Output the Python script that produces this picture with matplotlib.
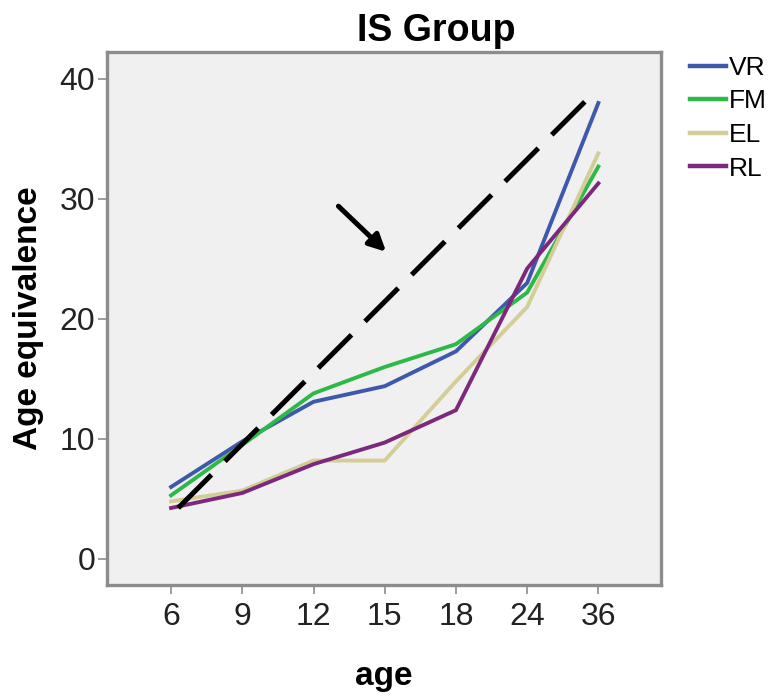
import matplotlib
matplotlib.use('Agg')
from matplotlib import pyplot as plt

plt.rcParams['font.family'] = ['Liberation Sans', 'DejaVu Sans']

# ages on the x axis (categorical, equally spaced)
ages = ['6', '9', '12', '15', '18', '24', '36']

# age equivalence per domain
vr = [6.0, 9.8, 13.1, 14.4, 17.3, 23.0, 38.0]
fm = [5.3, 9.5, 13.8, 16.0, 17.9, 22.2, 32.7]
el = [4.8, 5.7, 8.2, 8.2, 14.8, 21.0, 33.8]
rl = [4.25, 5.5, 7.9, 9.7, 12.4, 24.2, 31.3]

series = {'VR': vr, 'FM': fm, 'EL': el, 'RL': rl}
colors = {'VR': '#3e58ac', 'FM': '#2eb848', 'EL': '#d3ce97', 'RL': '#7c287d'}

# hand drawn reference line and arrow (x in category index units)
diag_x = [0.1, 5.81]
diag_y = [4.25, 38.1]
arrow_from = (2.35, 29.4)
arrow_to = (3.02, 25.6)

fig = plt.figure(figsize=(7.7, 6.97), dpi=100)
ax = fig.add_axes([107/770, 1 - 585/697, (661-107)/770, (585-52)/697])
ax.set_facecolor('#f0f0f0')

x = list(range(len(ages)))
for name, vals in series.items():
    ax.plot(x, vals, color=colors[name], lw=2.8, label=name, solid_joinstyle='miter')

ax.plot(diag_x, diag_y, color='black', lw=3.6, dashes=(9.4, 3.8), dash_capstyle='butt')
ax.annotate('', xy=arrow_to, xytext=arrow_from,
            arrowprops=dict(arrowstyle='-|>,head_length=1.0,head_width=0.5',
                            color='black', lw=3.6, shrinkA=0, shrinkB=0))

ax.set_xlim(-0.9, 6.88)
ax.set_ylim(-2.17, 42.25)
ax.set_xticks(x)
ax.set_xticklabels(ages)
ax.set_yticks([0, 10, 20, 30, 40])

for sp in ax.spines.values():
    sp.set_color('#8c8c8c')
    sp.set_linewidth(2.4)
ax.tick_params(axis='both', color='#8c8c8c', width=1.2, length=6.5,
               labelsize=23, labelcolor='#222222')
ax.tick_params(axis='x', pad=6)
ax.tick_params(axis='y', pad=2)

fig.text(436/770, 1 - 41/697, 'IS Group', fontsize=27, fontweight='bold',
         ha='center', va='baseline')
fig.text(29/770, 1 - 318/697, 'Age equivalence', fontsize=24, fontweight='bold',
         rotation=90, ha='center', va='center')
fig.text(384/770, 1 - 677/697, 'age', fontsize=24, fontweight='bold',
         ha='center', va='center')

leg = ax.legend(loc='upper left', bbox_to_anchor=(690/770, 1 - 56/697),
                bbox_transform=fig.transFigure, frameon=False, fontsize=19,
                borderpad=0, borderaxespad=0, handlelength=1.35,
                handletextpad=0.12, labelspacing=0.36)
for line in leg.get_lines():
    line.set_linewidth(3.2)

fig.savefig('out.png', dpi=100)
